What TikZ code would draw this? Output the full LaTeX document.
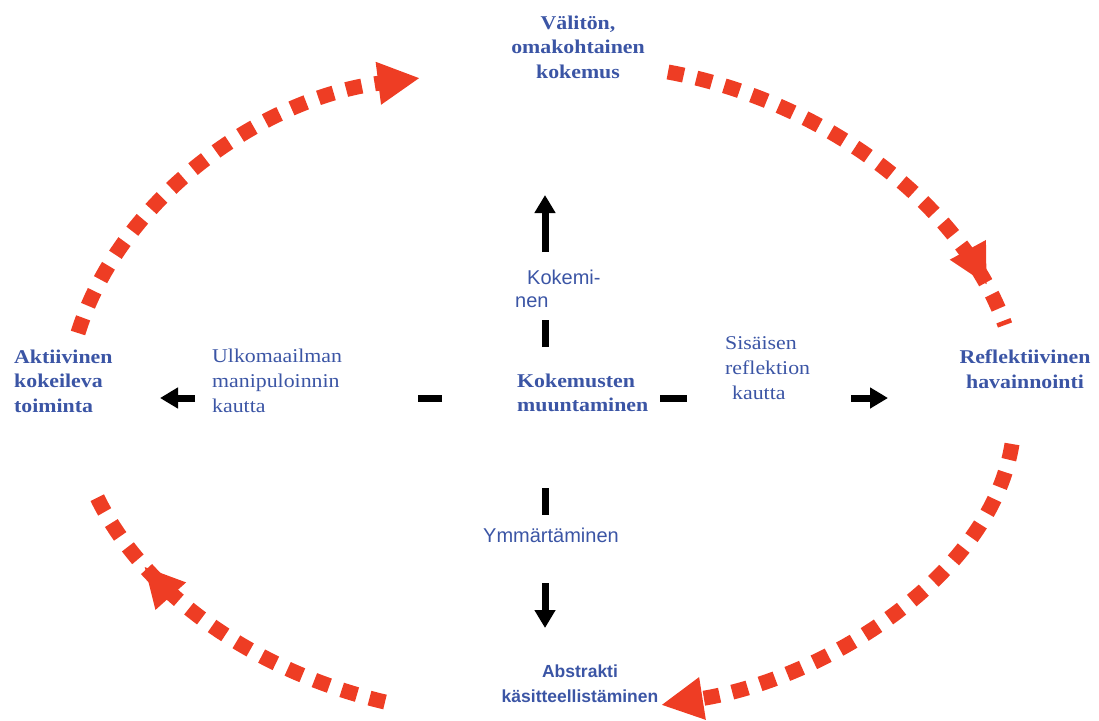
\documentclass[tikz,border=0pt]{standalone}
\usepackage{fontspec}
\setmainfont[FakeStretch=1.12]{Liberation Serif}
\setsansfont{Liberation Sans}
\usetikzlibrary{arrows.meta,decorations.markings}
\definecolor{kblue}{HTML}{3B55A5}
\definecolor{kred}{HTML}{EE3D24}

\tikzset{
  pole/.style={text=kblue, font=\fontsize{19.5}{24.5}\selectfont\bfseries, inner sep=0pt},
  polesans/.style={text=kblue, font=\fontsize{17.5}{25}\selectfont\sffamily\bfseries, inner sep=0pt},
  route/.style={text=kblue, font=\fontsize{19.5}{25}\selectfont, inner sep=0pt},
  routesans/.style={text=kblue, font=\fontsize{20}{23}\selectfont\sffamily, inner sep=0pt},
  cycle/.style={draw=kred, line width=15pt, dash pattern=on 16pt off 13pt},
  redtip/.style={-{Triangle[length=42pt,width=40pt]}},
  midtip/.style={postaction={decorate}, decoration={markings,
      mark=at position #1 with {\arrow{Triangle[length=40pt,width=38pt]}}}},
  stub/.style={draw=black, line width=7pt},
  blacktip/.style={-{Triangle[length=18pt,width=20pt]}}
}

\begin{document}
\begin{tikzpicture}[x=1pt,y=-1pt]
\useasboundingbox (0,0) rectangle (1099,720);

% the four poles of the cycle and the centre
\node[pole, align=center] (top) at (578,47) {Välitön,\\omakohtainen\\kokemus};
\node[pole, align=center] (right) at (1025,369) {Reflektiivinen\\havainnointi};
\node[polesans, align=center] (bottom) at (580,684) {Abstrakti\\käsitteellistäminen};
\node[pole, align=left, anchor=west] (left) at (14,381) {Aktiivinen\\kokeileva\\toiminta};
\node[pole, align=left, anchor=west] (centre) at (517,393) {Kokemusten\\muuntaminen};

% labels on the axes
\node[routesans, align=left, anchor=west] (lblup) at (515,289) {\hspace{12pt}Kokemi-\\nen};
\node[routesans] (lbldown) at (551,535) {Ymmärtäminen};
\node[route, align=left, anchor=west] (lblleft) at (212,381) {Ulkomaailman\\manipuloinnin\\kautta};
\node[route, align=left, anchor=west] (lblright) at (725,368) {Sisäisen\\reflektion\\\hspace{7pt}kautta};

% axis pieces
\coordinate (u1) at (545,347); \coordinate (u2) at (545,320);
\coordinate (u3) at (545,252); \coordinate (u4) at (545,195);
\coordinate (d1) at (545,488); \coordinate (d2) at (545,515);
\coordinate (d3) at (545,583); \coordinate (d4) at (545,628);
\coordinate (l1) at (442,398); \coordinate (l2) at (418,398);
\coordinate (l3) at (195,398); \coordinate (l4) at (160,398);
\coordinate (r1) at (660,398); \coordinate (r2) at (687,398);
\coordinate (r3) at (851,398); \coordinate (r4) at (888,398);

\draw[stub] (u1) -- (u2);
\draw[stub, blacktip] (u3) -- (u4);
\draw[stub] (d1) -- (d2);
\draw[stub, blacktip] (d3) -- (d4);
\draw[stub] (l1) -- (l2);
\draw[stub, blacktip] (l3) -- (l4);
\draw[stub] (r1) -- (r2);
\draw[stub, blacktip] (r3) -- (r4);

% the learning cycle
\coordinate (a0) at (78,333);   \coordinate (a1) at (420,78);
\coordinate (b0) at (668,72);   \coordinate (b1) at (1005,325);
\coordinate (c0) at (1012,444); \coordinate (c1) at (661,705);
\coordinate (e0) at (385,702);  \coordinate (e1) at (95,493);

\draw[cycle, redtip] (a0) .. controls (120,198) and (262,98) .. (a1);
\draw[cycle, midtip=0.9] (b0) .. controls (820,100) and (960,200) .. (b1);
\draw[cycle, redtip] (c0) .. controls (990,580) and (820,680) .. (c1);
\draw[cycle, midtip=0.76] (e0) .. controls (250,670) and (140,590) .. (e1);
\end{tikzpicture}
\end{document}
